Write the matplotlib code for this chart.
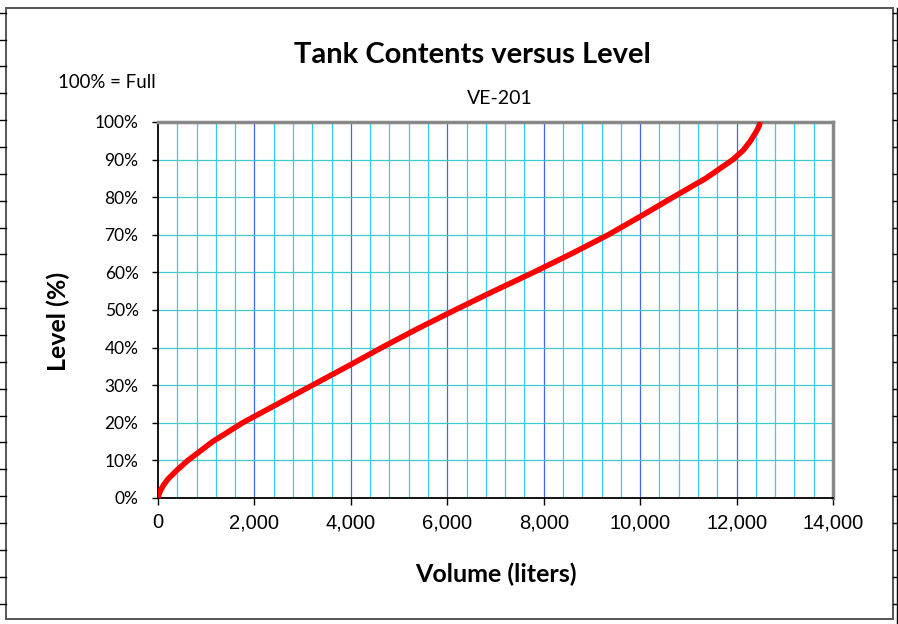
import matplotlib
matplotlib.use("Agg")
import matplotlib.pyplot as plt
from matplotlib.patches import Rectangle
from matplotlib.lines import Line2D
from matplotlib.ticker import FuncFormatter

level = [0, 1, 2, 3.5, 5, 7.5, 10, 15, 20, 25, 30, 35, 40, 45, 50, 55, 60, 65, 70, 75,
         80, 85, 90, 92.5, 95, 97.5, 99, 100]
volume = [0, 20, 52, 118, 205, 400, 620, 1134, 1754, 2478, 3202, 3930, 4640, 5380, 6160,
          6960, 7786, 8580, 9338, 10020, 10683, 11360, 11923, 12140, 12290, 12410, 12470, 12490]

x_major = [0, 2000, 4000, 6000, 8000, 10000, 12000, 14000]
y_ticks = [0, 10, 20, 30, 40, 50, 60, 70, 80, 90, 100]

W, H = 898, 624
fig = plt.figure(figsize=(W / 100, H / 100), dpi=100)

def fx(px):
    return px / W

def fy(py):
    return 1 - py / H

ax = fig.add_axes([fx(158), fy(498), fx(833) - fx(158), fy(122) - fy(498)])
ax.set_xlim(0, 14000)
ax.set_ylim(0, 100)

# grid: thin cyan every 400 L, blue every 2000 L, teal every 10 %
for v in range(400, 14000, 400):
    if v % 2000 == 0:
        ax.axvline(v, color="#4466ee", lw=0.9, zorder=1)
    else:
        ax.axvline(v, color="#33ccf5", lw=0.9, zorder=1)
for lv in y_ticks[1:-1]:
    ax.axhline(lv, color="#40c8d0", lw=0.9, zorder=1)

ax.plot(volume, level, color="#ff0000", lw=4.0, solid_capstyle="butt",
        solid_joinstyle="round", zorder=3)

for s in ["left", "bottom"]:
    ax.spines[s].set_color("black")
    ax.spines[s].set_linewidth(1.3)
for s in ["top", "right"]:
    ax.spines[s].set_color("#888888")
    ax.spines[s].set_linewidth(2.5)

ax.set_xticks(x_major)
ax.xaxis.set_major_formatter(FuncFormatter(lambda v, p: f"{int(v):,}"))
ax.set_yticks(y_ticks)
ax.yaxis.set_major_formatter(FuncFormatter(lambda v, p: f"{int(v)}%"))
ax.tick_params(axis="x", length=5, width=1, pad=6, labelsize=14.5)
ax.tick_params(axis="y", length=4, width=1, pad=10, labelsize=12.5)
for t in ax.get_xticklabels():
    t.set_fontfamily("Liberation Sans")
for t in ax.get_yticklabels():
    t.set_fontfamily("Lato")

ax.set_xlabel("Volume (liters)", fontsize=18, fontweight="bold", family="Lato")
ax.xaxis.set_label_coords(0.5, -0.172)
ax.set_ylabel("Level (%)", fontsize=18, fontweight="bold", family="Lato")
ax.yaxis.set_label_coords(-0.13, 0.469)

fig.text(fx(472), fy(63), "Tank Contents versus Level", ha="center", va="baseline",
         fontsize=21, fontweight="bold", family="Lato")
fig.text(fx(500), fy(104), "VE-201", ha="center", va="baseline", fontsize=14, family="Lato")
fig.text(fx(58), fy(88), "100% = Full", ha="left", va="baseline", fontsize=13.4, family="Lato")

# chart frame and the spreadsheet cell lines around it
fig.add_artist(Rectangle((fx(5.5), fy(618.5)), fx(893) - fx(5.5), fy(8.3) - fy(618.5),
                         transform=fig.transFigure, fill=False, ec="#555555", lw=1.4))
fig.add_artist(Line2D([fx(896.5), fx(896.5)], [fy(8.3), fy(624)], color="black", lw=1.0))
for k in range(23):
    yk = 12.7 + 26.86 * k
    fig.add_artist(Line2D([0, fx(5.5)], [fy(yk), fy(yk)], color="black", lw=1.0))
    fig.add_artist(Line2D([fx(893), 1], [fy(yk), fy(yk)], color="black", lw=1.0))

fig.savefig("out.png", dpi=100, facecolor="white")
